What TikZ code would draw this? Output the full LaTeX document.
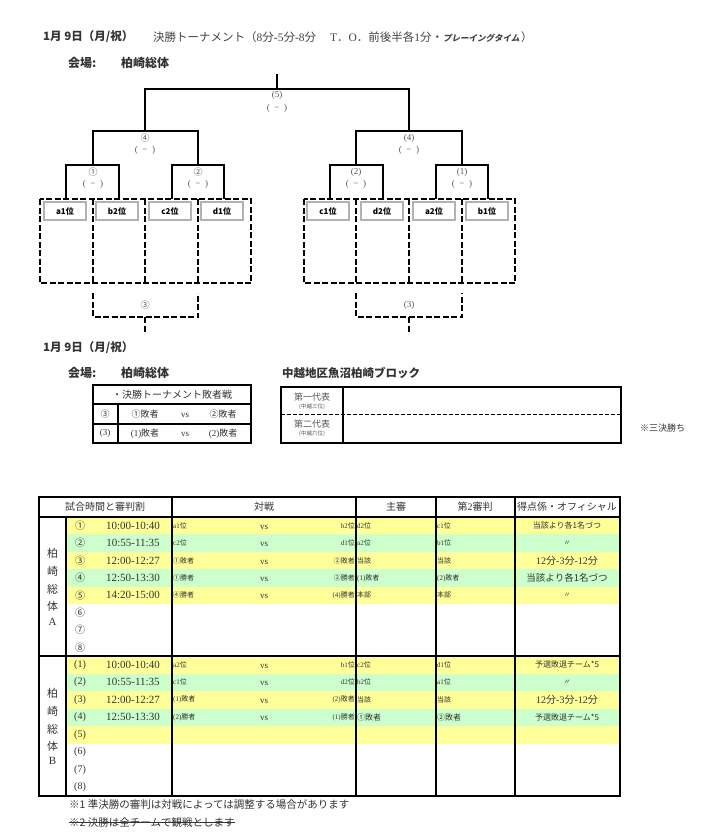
\documentclass[tikz,border=0pt]{standalone}
\usepackage{fontspec}
\setmainfont{Liberation Serif}
\newfontfamily\jp{Noto Sans CJK JP}
\newfontfamily\jpit{Noto Sans CJK JP}[FakeSlant=0.2]
\newcommand\J[1]{{\jp #1}}
\definecolor{yel}{HTML}{FFFF99}
\definecolor{grn}{HTML}{CCFFCC}
\definecolor{txt}{HTML}{333333}
\definecolor{lbl}{HTML}{555555}
\begin{document}
\begin{tikzpicture}[x=1pt,y=-1pt,
  bl/.style={line width=2.5pt},
  dl/.style={line width=2pt,dash pattern=on 6pt off 2.5pt},
  tl/.style={line width=2.5pt},
  lab/.style={text=lbl,inner sep=0pt,font=\fontsize{9}{10}\selectfont},
  team/.style={draw=black!30,line width=1.2pt,minimum width=42pt,minimum height=18pt,inner sep=0pt,font=\jp\bfseries\fontsize{8}{9}\selectfont},
  tx/.style={inner sep=0pt,text=txt},
  sm/.style={tx,font=\fontsize{7}{8}\selectfont},
  md/.style={tx,font=\fontsize{10}{11}\selectfont},
  hd/.style={tx,font=\jp\bfseries\fontsize{11.5}{12}\selectfont,anchor=west},
  vn/.style={tx,font=\jp\bfseries\fontsize{12}{13}\selectfont,anchor=west},
  tm/.style={tx,font=\fontsize{11}{12}\selectfont},
  vt/.style={tx,font=\jp\fontsize{11}{12}\selectfont}
]
\fill[white] (0,0) rectangle (709,835);
\useasboundingbox (0,0) rectangle (709,835);

% ---------- titles ----------
\node[hd] (t1) at (43,37) {1月 9日（月/祝）};
\node[tx,anchor=west,font=\fontsize{11.5}{12}\selectfont,text=lbl!80!black] (t2) at (153,37)
  {\J{決勝トーナメント（}8\J{分}-5\J{分}-8\J{分}\hspace{14pt}T\J{．}O\J{．}\J{前後半各}1\J{分}\J{・}{\jpit\bfseries\fontsize{8.5}{9}\selectfont プレーイングタイム}\hspace{1.5pt}\J{）}};
\node[vn] (v1) at (68,63) {会場:};
\node[vn] (v2) at (121,63) {柏崎総体};

% ---------- bracket ----------
\draw[bl] (277,74) -- (277,89);
\draw[bl] (145,131) -- (145,89) -- (409,89) -- (409,131);
\draw[bl] (93,165) -- (93,131) -- (198,131) -- (198,165);
\draw[bl] (66,199) -- (66,165) -- (119,165) -- (119,199);
\draw[bl] (172,199) -- (172,165) -- (224,165) -- (224,199);
\draw[bl] (356,165) -- (356,131) -- (462,131) -- (462,165);
\draw[bl] (330,199) -- (330,165) -- (383,165) -- (383,199);
\draw[bl] (436,199) -- (436,165) -- (488,165) -- (488,199);

\node[lab] (l5a) at (277,95) {(5)};
\node[lab] (l5b) at (277,108) {(\ \ −\ \ )};
\node[lab] (l4a) at (145,138) {\J{④}};
\node[lab] (l4b) at (145,150) {(\ \ −\ \ )};
\node[lab] (r4a) at (409,138) {(4)};
\node[lab] (r4b) at (409,150) {(\ \ −\ \ )};
\node[lab] (l1a) at (93,172) {\J{①}};
\node[lab] (l1b) at (93,184) {(\ \ −\ \ )};
\node[lab] (l2a) at (198,172) {\J{②}};
\node[lab] (l2b) at (198,184) {(\ \ −\ \ )};
\node[lab] (r2a) at (356,172) {(2)};
\node[lab] (r2b) at (356,184) {(\ \ −\ \ )};
\node[lab] (r1a) at (462,172) {(1)};
\node[lab] (r1b) at (462,184) {(\ \ −\ \ )};

\draw[dl] (40,199) rectangle (251,283);
\foreach \x in {93,145,198} \draw[dl] (\x,199) -- (\x,283);
\draw[dl] (304,199) rectangle (515,283);
\foreach \x in {356,409,462} \draw[dl] (\x,199) -- (\x,283);
\draw[dl] (93,293) -- (93,317) -- (198,317) -- (198,293);
\draw[dl] (145,317) -- (145,334);
\draw[dl] (356,293) -- (356,317) -- (462,317) -- (462,293);
\draw[dl] (409,317) -- (409,334);
\node[lab] (l3) at (145,305) {\J{③}};
\node[lab] (r3) at (409,305) {(3)};

\node[team] (a1) at (65,211) {a1位};
\node[team] (b2) at (117,211) {b2位};
\node[team] (c2) at (170,211) {c2位};
\node[team] (d1) at (222,211) {d1位};
\node[team] (c1) at (328,211) {c1位};
\node[team] (d2) at (382,211) {d2位};
\node[team] (a2) at (434,211) {a2位};
\node[team] (b1) at (487,211) {b1位};

% ---------- second block ----------
\node[hd] (t3) at (43,348) {1月 9日（月/祝）};
\node[vn] (v3) at (68,373) {会場:};
\node[vn] (v4) at (121,373) {柏崎総体};
\node[hd] (blk) at (282,373) {中越地区魚沼柏崎ブロック};

\draw[line width=2pt] (93,385) rectangle (251,443);
\draw[line width=2pt] (93,404) -- (251,404) (93,424) -- (251,424) (118,404) -- (118,443);
\node[md,font=\jp\fontsize{10}{11}\selectfont] (lh) at (172,395) {・決勝トーナメント敗者戦};
\node[md,font=\fontsize{9}{10}\selectfont] (lr1) at (105,414) {\J{③}};
\node[md,font=\fontsize{9}{10}\selectfont] (lr2) at (105,433.5) {(3)};
\node[md,font=\fontsize{9}{10}\selectfont] at (145,414) {\J{①敗者}};
\node[md,font=\fontsize{9}{10}\selectfont] at (185,415) {vs};
\node[md,font=\fontsize{9}{10}\selectfont] at (223,414) {\J{②敗者}};
\node[md,font=\fontsize{9}{10}\selectfont] at (145,433.5) {(1)\J{敗者}};
\node[md,font=\fontsize{9}{10}\selectfont] at (185,434.5) {vs};
\node[md,font=\fontsize{9}{10}\selectfont] at (223,433.5) {(2)\J{敗者}};

\draw[line width=1.5pt] (281,387) rectangle (621,443);
\draw[line width=1.5pt] (343,387) -- (343,443);
\draw[line width=1pt,dash pattern=on 4pt off 2pt] (281,414) -- (621,414);
\node[tx,font=\jp\fontsize{9}{10}\selectfont,text=lbl] (p1) at (312,397) {第一代表};
\node[tx,font=\jp\fontsize{5.5}{6}\selectfont,text=lbl] (p1s) at (312,407) {(中越三位)};
\node[tx,font=\jp\fontsize{9}{10}\selectfont,text=lbl] (p2) at (312,424) {第二代表};
\node[tx,font=\jp\fontsize{5.5}{6}\selectfont,text=lbl] (p2s) at (312,434) {(中越六位)};
\node[tx,font=\jp\fontsize{9}{10}\selectfont,anchor=west] (nt) at (640,428) {※三決勝ち};

% ---------- schedule table ----------
\fill[yel] (66,517) rectangle (620,534.4);
\fill[grn] (66,534.4) rectangle (620,551.8);
\fill[yel] (66,551.8) rectangle (620,569.2);
\fill[grn] (66,569.2) rectangle (620,586.6);
\fill[yel] (66,586.6) rectangle (620,604);
\fill[yel] (66,656) rectangle (620,673.5);
\fill[grn] (66,673.5) rectangle (620,691);
\fill[yel] (66,691) rectangle (620,708.5);
\fill[grn] (66,708.5) rectangle (620,726);
\fill[yel] (66,726) rectangle (620,743.5);

\draw[tl] (39,497) rectangle (620,796);
\draw[tl] (39,517) -- (620,517) (39,656) -- (620,656);
\draw[tl] (66,517) -- (66,796);
\foreach \x in {172,356,436,515} \draw[tl] (\x,497) -- (\x,796);

\node[md,font=\jp\fontsize{10}{11}\selectfont] (h1) at (105,507) {試合時間と審判割};
\node[md,font=\jp\fontsize{10}{11}\selectfont] (h2) at (264,507) {対戦};
\node[md,font=\jp\fontsize{10}{11}\selectfont] (h3) at (396,507) {主審};
\node[md,font=\fontsize{10}{11}\selectfont] (h4) at (475,507) {\J{第}2\J{審判}};
\node[md,font=\jp\fontsize{10}{11}\selectfont] (h5) at (567,507) {得点係・オフィシャル};

% vertical venue labels
\node[vt] at (52.5,553) {柏};
\node[vt] at (52.5,571) {崎};
\node[vt] at (52.5,589) {総};
\node[vt] at (52.5,606) {体};
\node[tm] at (52.5,622) {A};
\node[vt] at (52.5,693) {柏};
\node[vt] at (52.5,711) {崎};
\node[vt] at (52.5,729) {総};
\node[vt] at (52.5,746) {体};
\node[tm] at (52.5,761) {B};

% number and time columns
\foreach \n/\y in {①/525.7,②/543.1,③/560.5,④/577.9,⑤/595.3,⑥/612.7,⑦/630.1,⑧/647.5}
  \node[md,font=\jp\fontsize{10}{11}\selectfont] at (80,\y) {\n};
\foreach \n/\y in {1/664.75,2/682.25,3/699.75,4/717.25,5/734.75,6/752.25,7/769.75,8/787.25}
  \node[md] at (80,\y) {(\n)};
\foreach \t/\y in {10:00-10:40/525.7,10:55-11:35/543.1,12:00-12:27/560.5,12:50-13:30/577.9,14:20-15:00/595.3,
                   10:00-10:40/664.75,10:55-11:35/682.25,12:00-12:27/699.75,12:50-13:30/717.25}
  \node[tm] at (133,\y) {\t};

% match column A
\node[sm,anchor=west] at (173,525.7) {a1\J{位}};
\node[sm,anchor=east] at (355,525.7) {b2\J{位}};
\node[sm,anchor=west] at (173,543.1) {c2\J{位}};
\node[sm,anchor=east] at (355,543.1) {d1\J{位}};
\node[sm,anchor=west] at (173,560.5) {\J{①敗者}};
\node[sm,anchor=east] at (355,560.5) {\J{②敗者}};
\node[sm,anchor=west] at (173,577.9) {\J{①勝者}};
\node[sm,anchor=east] at (355,577.9) {\J{②勝者}};
\node[sm,anchor=west] at (173,595.3) {\J{④勝者}};
\node[sm,anchor=east] at (355,595.3) {(4)\J{勝者}};
% match column B
\node[sm,anchor=west] at (173,664.75) {a2\J{位}};
\node[sm,anchor=east] at (355,664.75) {b1\J{位}};
\node[sm,anchor=west] at (173,682.25) {c1\J{位}};
\node[sm,anchor=east] at (355,682.25) {d2\J{位}};
\node[sm,anchor=west] at (173,699.75) {(1)\J{敗者}};
\node[sm,anchor=east] at (355,699.75) {(2)\J{敗者}};
\node[sm,anchor=west] at (173,717.25) {(2)\J{勝者}};
\node[sm,anchor=east] at (355,717.25) {(1)\J{勝者}};
\foreach \y in {525.7,543.1,560.5,577.9,595.3,664.75,682.25,699.75,717.25}
  \node[md,font=\fontsize{9}{10}\selectfont] at (264,\y+1.5) {vs};

% referees A
\node[sm,anchor=west] at (357,525.7) {d2\J{位}};
\node[sm,anchor=west] at (437,525.7) {c1\J{位}};
\node[sm,anchor=west] at (357,543.1) {a2\J{位}};
\node[sm,anchor=west] at (437,543.1) {b1\J{位}};
\node[sm,anchor=west] at (357,560.5) {\J{当該}};
\node[sm,anchor=west] at (437,560.5) {\J{当該}};
\node[sm,anchor=west] at (357,577.9) {(1)\J{敗者}};
\node[sm,anchor=west] at (437,577.9) {(2)\J{敗者}};
\node[sm,anchor=west] at (357,595.3) {\J{本部}};
\node[sm,anchor=west] at (437,595.3) {\J{本部}};
% referees B
\node[sm,anchor=west] at (357,664.75) {c2\J{位}};
\node[sm,anchor=west] at (437,664.75) {d1\J{位}};
\node[sm,anchor=west] at (357,682.25) {b2\J{位}};
\node[sm,anchor=west] at (437,682.25) {a1\J{位}};
\node[sm,anchor=west] at (357,699.75) {\J{当該}};
\node[sm,anchor=west] at (437,699.75) {\J{当該}};
\node[sm,anchor=west,font=\jp\fontsize{8}{9}\selectfont] at (357,717.25) {①敗者};
\node[sm,anchor=west,font=\jp\fontsize{8}{9}\selectfont] at (437,717.25) {②敗者};

% officials
\node[sm,font=\jp\fontsize{8}{9}\selectfont] at (567,525.7) {当該より各1名づつ};
\node[sm,font=\jp\fontsize{7}{8}\selectfont] at (567,543.1) {〃};
\node[md] at (567,560.5) {12\J{分}-3\J{分}-12\J{分}};
\node[md,font=\jp\fontsize{9.5}{10}\selectfont] at (567,577.9) {当該より各1名づつ};
\node[sm,font=\jp\fontsize{7}{8}\selectfont] at (567,595.3) {〃};
\node[sm,font=\jp\fontsize{8}{9}\selectfont] at (567,664.75) {予選敗退チーム*5};
\node[sm,font=\jp\fontsize{7}{8}\selectfont] at (567,682.25) {〃};
\node[md] at (567,699.75) {12\J{分}-3\J{分}-12\J{分}};
\node[sm,font=\jp\fontsize{8}{9}\selectfont] at (567,717.25) {予選敗退チーム*5};

% footnotes
\node[tx,anchor=west,font=\jp\fontsize{10.5}{11}\selectfont] (f1) at (69,804) {※1 準決勝の審判は対戦によっては調整する場合があります};
\node[tx,anchor=west,font=\jp\fontsize{10.5}{11}\selectfont] (f2) at (69,822) {※2 決勝は全チームで観戦とします};
\draw[txt,line width=0.8pt] (f2.west) -- (f2.east);
\end{tikzpicture}
\end{document}
